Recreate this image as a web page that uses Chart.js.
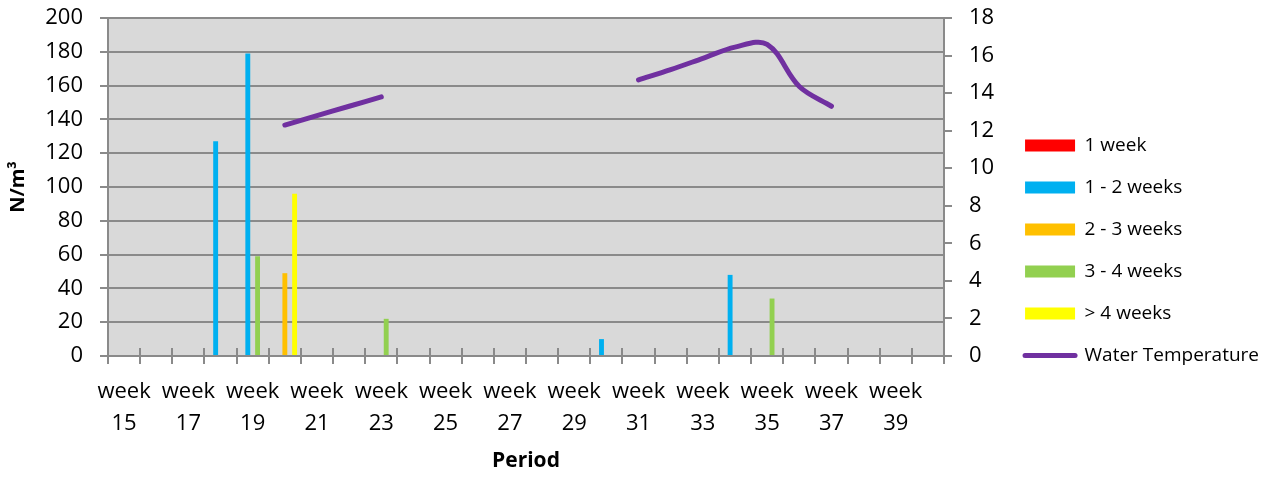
<!DOCTYPE html>
<html>
<head>
<meta charset="utf-8">
<title>Larvae density and water temperature</title>
<script src="https://cdn.jsdelivr.net/npm/chart.js@4.4.1/dist/chart.umd.min.js"></script>
<style>
  html, body { margin: 0; padding: 0; background: #ffffff; }
  canvas { display: block; }
</style>
</head>
<body>
<canvas id="chart" width="1269" height="479"></canvas>
<script>
// Sampling weeks shown on the category axis
const weeks = [15, 16, 17, 18, 19, 20, 21, 22, 23, 24, 25, 26, 27,
               28, 29, 30, 31, 32, 33, 34, 35, 36, 37, 38, 39, 40];

// Density per age class (N/m³); null = no sample / nothing found
const oneWeek    = [null, null, null, null, null, null, null, null, null, null, null, null, null,
                    null, null, null, null, null, null, null, null, null, null, null, null, null];
const oneToTwo   = [null, null, null, 127, 179, null, null, null, null, null, null, null, null,
                    null, null, 10, null, null, null, 48, null, null, null, null, null, null];
const twoToThree = [null, null, null, null, null, 49, null, null, null, null, null, null, null,
                    null, null, null, null, null, null, null, null, null, null, null, null, null];
const threeToFour= [null, null, null, null, 59, null, null, null, 22, null, null, null, null,
                    null, null, null, null, null, null, null, 34, null, null, null, null, null];
const overFour   = [null, null, null, null, null, 96, null, null, null, null, null, null, null,
                    null, null, null, null, null, null, null, null, null, null, null, null, null];

// Water temperature (°C), right-hand axis
const waterTemp  = [null, null, null, null, null, 12.3, 12.8, 13.3, 13.8, null, null, null, null,
                    null, null, null, 14.7, 15.25, 15.85, 16.45, 16.6, 14.35, 13.3, null, null, null];

const seriesLabels = ['1 week', '1 - 2 weeks', '2 - 3 weeks', '3 - 4 weeks', '> 4 weeks', 'Water Temperature'];
const seriesColors = ['#FF0000', '#00B0F0', '#FFC000', '#92D050', '#FFFF00', '#7030A0'];

const AXIS_GREY = '#8a8a8a';
const LINE_W = 2;
const FONT = "'Open Sans', 'Liberation Sans', sans-serif";
const PAD = { top: 18, right: 0, bottom: 0, left: 0 };
const PLOT_RIGHT = 944;

Chart.defaults.font.family = FONT;
Chart.defaults.color = '#000000';

// Grey plot area behind the bars
const plotBackground = {
  id: 'plotBackground',
  beforeDraw(chart) {
    const { ctx, chartArea: a } = chart;
    ctx.save();
    ctx.fillStyle = '#d9d9d9';
    ctx.fillRect(a.left, a.top, a.right - a.left, a.bottom - a.top);
    ctx.restore();
  }
};

// Category tick marks cross the x axis: add the part above the axis line
const crossTicks = {
  id: 'crossTicks',
  beforeDatasetsDraw(chart) {
    const xs = chart.scales.x;
    const { ctx } = chart;
    const base = chart.chartArea.bottom;
    const step = xs.getPixelForValue(1) - xs.getPixelForValue(0);
    ctx.save();
    ctx.strokeStyle = AXIS_GREY;
    ctx.lineWidth = LINE_W;
    ctx.beginPath();
    for (let i = 0; i <= weeks.length; i++) {
      const px = Math.round(xs.getPixelForValue(i) - step / 2);
      ctx.moveTo(px, base - 8);
      ctx.lineTo(px, base);
    }
    ctx.stroke();
    ctx.restore();
  }
};

// Value axes: the plot area spans the full tick range, so no extra label overhang
function noOverhang(scale) {
  scale.paddingTop = 0;
  scale.paddingBottom = 0;
}

const barSeries = [oneWeek, oneToTwo, twoToThree, threeToFour, overFour];

const datasets = barSeries.map((values, i) => ({
  type: 'bar',
  label: seriesLabels[i],
  data: values,
  backgroundColor: seriesColors[i],
  borderWidth: 0,
  yAxisID: 'y'
}));

datasets.push({
  type: 'line',
  label: seriesLabels[5],
  data: waterTemp,
  borderColor: seriesColors[5],
  backgroundColor: seriesColors[5],
  borderWidth: 5,
  borderCapStyle: 'round',
  borderJoinStyle: 'round',
  tension: 0.35,
  pointRadius: 0,
  pointHoverRadius: 0,
  spanGaps: false,
  fill: false,
  yAxisID: 'y1'
});

new Chart(document.getElementById('chart'), {
  type: 'bar',
  data: {
    labels: weeks.map(w => 'week ' + w),
    datasets
  },
  plugins: [plotBackground, crossTicks],
  options: {
    responsive: false,
    animation: false,
    devicePixelRatio: 1,
    layout: { padding: PAD },
    datasets: {
      bar: { categoryPercentage: 0.76, barPercentage: 1.0 }
    },
    plugins: {
      tooltip: { enabled: false },
      legend: {
        position: 'right',
        align: 'center',
        maxWidth: 320,
        title: {
          display: true,
          text: '',
          font: { size: 4, lineHeight: 1 },
          padding: 0
        },
        labels: {
          usePointStyle: true,
          pointStyleWidth: 50,
          boxWidth: 50,
          boxHeight: 12,
          padding: 23,
          color: '#000000',
          font: { size: 19, family: FONT },
          generateLabels(chart) {
            const items = Chart.defaults.plugins.legend.labels.generateLabels(chart);
            items.forEach(item => {
              const ds = chart.data.datasets[item.datasetIndex];
              if (ds.type === 'line') {
                item.pointStyle = 'line';
                item.strokeStyle = ds.borderColor;
                item.fillStyle = ds.borderColor;
                item.lineWidth = 5;
                item.lineCap = 'round';
              } else {
                item.pointStyle = 'rect';
                item.fillStyle = ds.backgroundColor;
                item.strokeStyle = ds.backgroundColor;
                item.lineWidth = 0;
              }
              item.rotation = 0;
            });
            return items;
          }
        }
      }
    },
    scales: {
      x: {
        offset: true,
        grid: {
          offset: true,
          drawOnChartArea: false,
          drawTicks: true,
          tickLength: 8,
          color: AXIS_GREY,
          lineWidth: LINE_W
        },
        border: { color: AXIS_GREY, width: LINE_W },
        ticks: {
          autoSkip: false,
          maxRotation: 0,
          minRotation: 0,
          padding: 12,
          color: '#000000',
          font: { size: 22, lineHeight: 1.45 },
          callback: (value, index) => index % 2 === 0 ? ['week', String(weeks[index])] : ''
        },
        title: {
          display: true,
          text: 'Period',
          color: '#000000',
          font: { size: 21, weight: 'bold' },
          padding: { top: 0, bottom: 5 }
        },
        afterFit(scale) { scale.height = 123; }
      },
      y: {
        position: 'left',
        min: 0,
        max: 200,
        ticks: { stepSize: 20, padding: 17, color: '#000000', font: { size: 22 } },
        grid: { color: AXIS_GREY, lineWidth: LINE_W, tickLength: 8 },
        border: { color: AXIS_GREY, width: LINE_W },
        title: {
          display: true,
          text: 'N/m³',
          color: '#000000',
          font: { size: 20, weight: 'bold' },
          padding: { top: 6, bottom: 0 }
        },
        afterFit(scale) {
          scale.width = 108;
          noOverhang(scale);
        }
      },
      y1: {
        position: 'right',
        min: 0,
        max: 18,
        ticks: { stepSize: 2, padding: 17, color: '#000000', font: { size: 22 } },
        grid: { drawOnChartArea: false, color: AXIS_GREY, lineWidth: LINE_W, tickLength: 8 },
        border: { color: AXIS_GREY, width: LINE_W },
        afterFit(scale) {
          const legend = scale.chart.legend;
          const legendWidth = legend ? legend.width : 270;
          scale.width = Math.max(40, scale.chart.width - PAD.right - legendWidth - PLOT_RIGHT);
          noOverhang(scale);
        }
      }
    }
  }
});
</script>
</body>
</html>
